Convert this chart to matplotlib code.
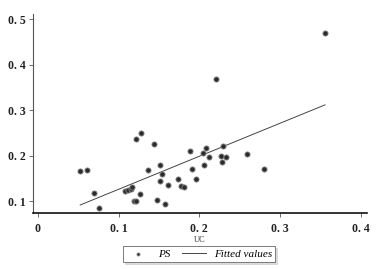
import numpy as np
import matplotlib
matplotlib.use("Agg")
import matplotlib.pyplot as plt

uc = [0.0525, 0.061, 0.070, 0.0756, 0.108, 0.112, 0.115, 0.117, 0.119, 0.122,
      0.1218, 0.1276, 0.1268, 0.137, 0.144, 0.1475, 0.1516, 0.152, 0.1545, 0.157,
      0.1615, 0.1735, 0.1772, 0.1817, 0.189, 0.191, 0.1966, 0.205, 0.209, 0.2123,
      0.2057, 0.2297, 0.2268, 0.2333, 0.2284, 0.259, 0.2804, 0.221, 0.356]
ps = [0.166, 0.168, 0.118, 0.085, 0.123, 0.125, 0.127, 0.131, 0.101, 0.100,
      0.236, 0.250, 0.115, 0.168, 0.225, 0.1015, 0.144, 0.179, 0.159, 0.0934,
      0.135, 0.148, 0.134, 0.131, 0.210, 0.170, 0.148, 0.205, 0.216, 0.196,
      0.180, 0.2215, 0.200, 0.198, 0.1864, 0.2026, 0.171, 0.368, 0.469]

xticks = [0, 0.1, 0.2, 0.3, 0.4]
xticklabels = ["0", "0. 1", "0. 2", "0. 3", "0. 4"]
yticks = [0.1, 0.2, 0.3, 0.4, 0.5]
yticklabels = ["0. 1", "0. 2", "0. 3", "0. 4", "0. 5"]

x = np.array(uc)
y = np.array(ps)
slope, intercept = np.polyfit(x, y, 1)
xs = np.sort(x)
fitted = intercept + slope * xs

fig = plt.figure(figsize=(3.82, 2.69), dpi=100)
ax = fig.add_axes([33/382, 56/269, 334/382, 199/269])
ax.scatter(x, y, s=14, color="#2b2b2b", edgecolors="#888888", linewidths=0.6, zorder=3, label="PS")
ax.plot(xs, fitted, color="#444444", lw=0.7, label="Fitted values", zorder=2)

ax.set_xlim(-0.006, 0.408)
ax.set_ylim(0.074, 0.511)
ax.set_xticks(xticks)
ax.set_xticklabels(xticklabels)
ax.set_yticks(yticks)
ax.set_yticklabels(yticklabels)
for s in ["top", "right"]:
    ax.spines[s].set_visible(False)
ax.spines["left"].set_color("#555555")
ax.spines["left"].set_linewidth(0.8)
ax.spines["bottom"].set_color("#111111")
ax.spines["bottom"].set_linewidth(1.2)
ax.tick_params(axis="y", direction="out", length=3, width=0.6, colors="#555555", labelcolor="#222222", pad=2)
ax.tick_params(axis="x", direction="out", length=3, width=0.6, colors="#555555", labelcolor="#222222", pad=4)
for lab in ax.get_xticklabels() + ax.get_yticklabels():
    lab.set_fontfamily("Liberation Serif")
    lab.set_fontsize(8.5)
    lab.set_fontweight("bold")
ax.set_xlabel("UC", fontsize=6, family="Liberation Serif", color="#333333", labelpad=1)

leg = fig.legend(loc="center", bbox_to_anchor=(199/382, 15/269), ncol=2,
                 prop={"family": "Liberation Serif", "style": "italic", "size": 8},
                 frameon=True, fancybox=False, shadow={"color": "#bbbbbb", "ox": 1.5, "oy": -1.5},
                 borderpad=0.25, handlelength=2.2, columnspacing=1.0, handletextpad=0.7,
                 markerscale=0.6)
leg.get_frame().set_edgecolor("#666666")
leg.get_frame().set_linewidth(0.6)

fig.savefig("out.png", dpi=100)
